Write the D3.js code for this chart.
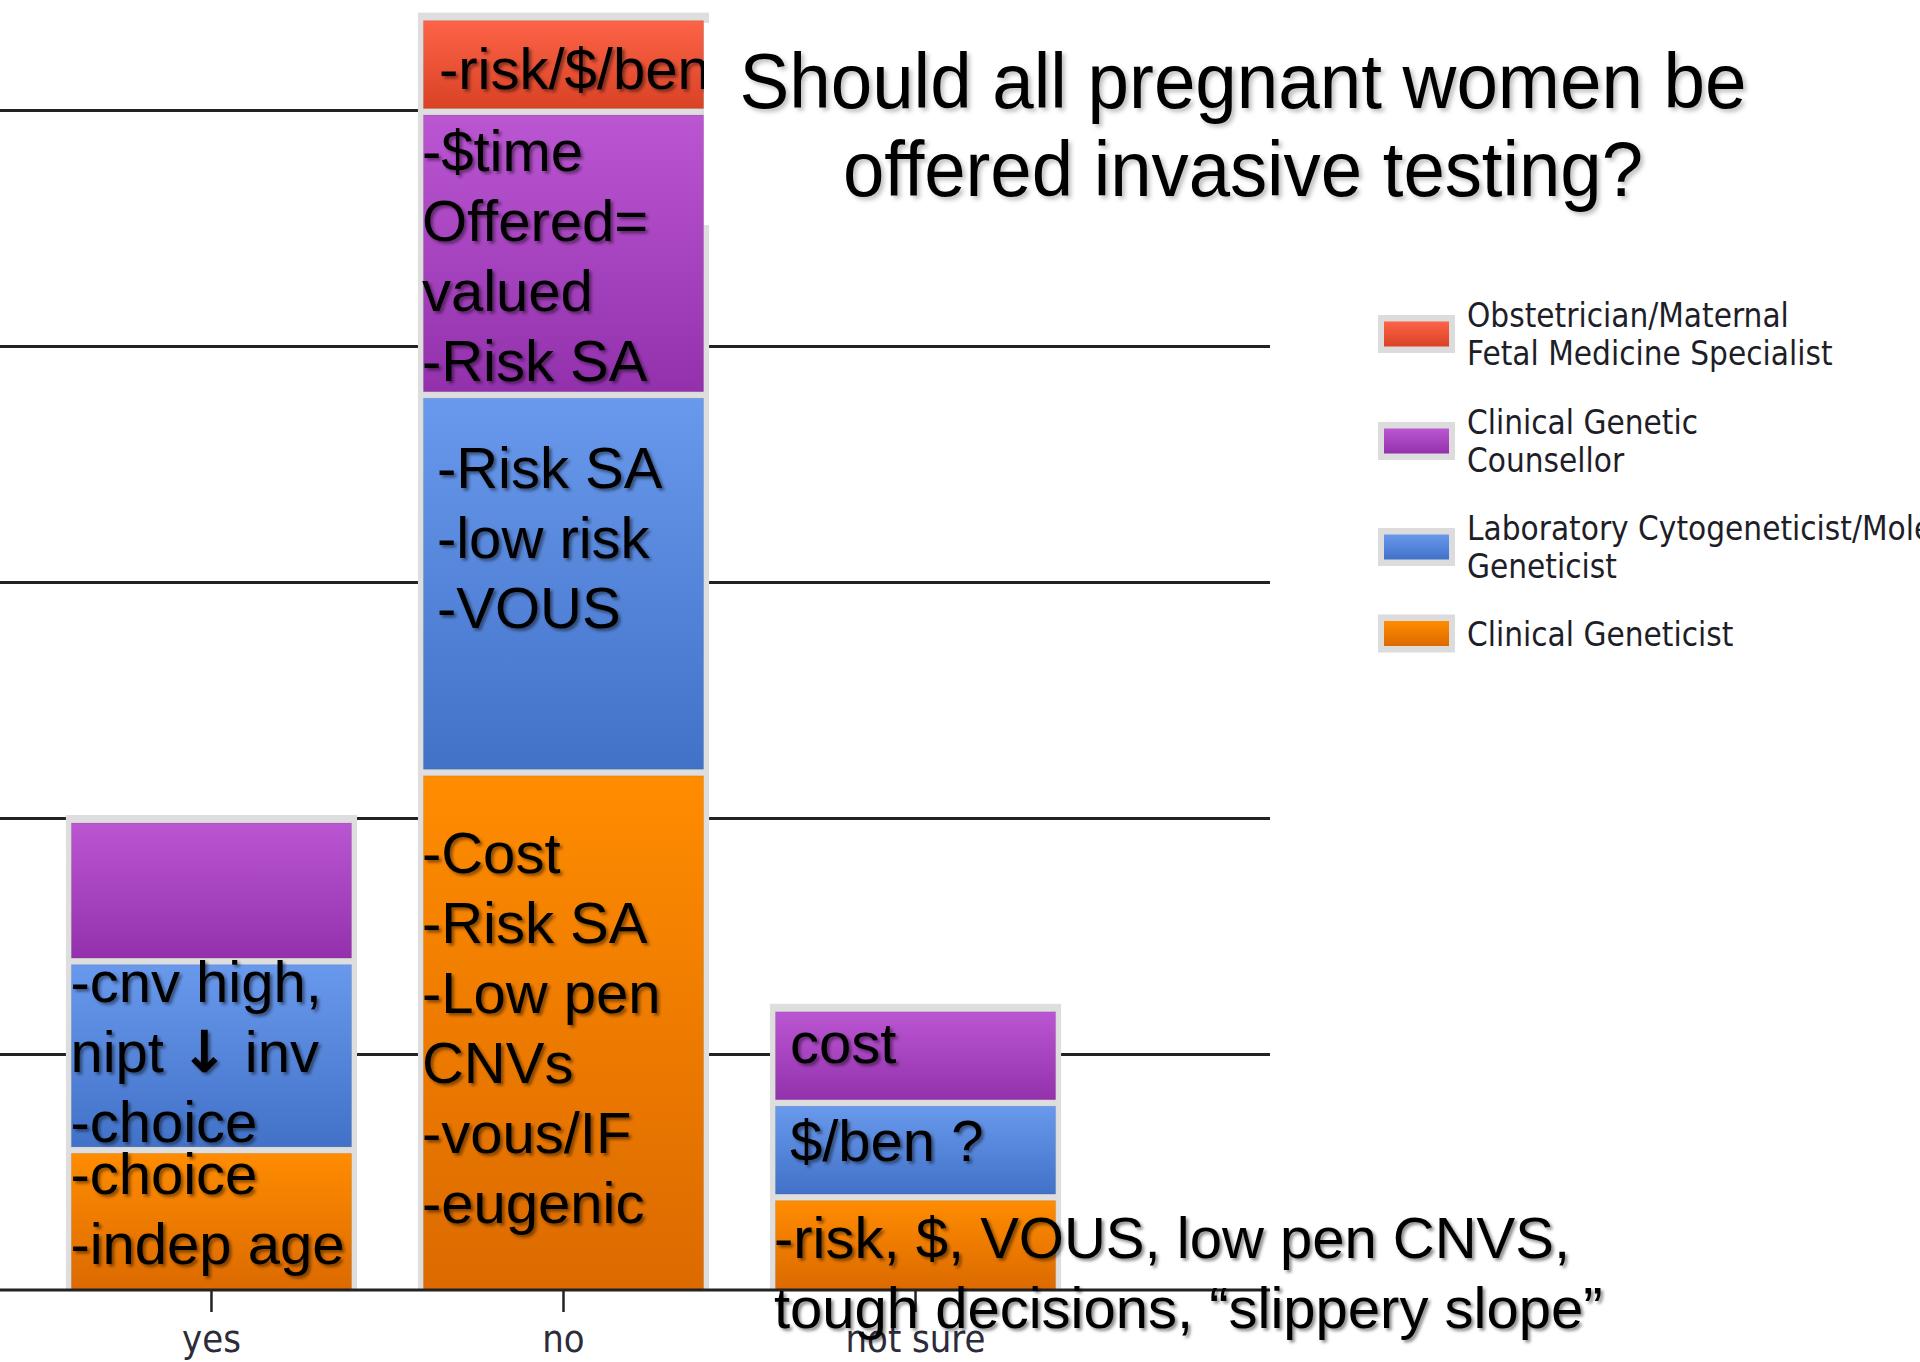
<!DOCTYPE html>
<html>
<head>
<meta charset="utf-8">
<script src="https://cdn.jsdelivr.net/npm/d3@7"></script>
<style>
  html, body { margin: 0; padding: 0; background: #fff; }
  svg { display: block; }
</style>
</head>
<body>
<svg id="chart" width="1920" height="1362"></svg>
<script>
// categories and stacked counts (bottom to top)
var categories = ["yes", "no", "not sure"];
var clinicalGeneticist = [3, 11, 2];
var labGeneticist = [4, 8, 2];
var counsellor = [3, 6, 2];
var obstetrician = [0, 2, 0];
var gridTicks = [5, 10, 15, 20, 25];

var seriesKeys = ["cg", "lab", "gc", "ob"];
var legendKeys = ["ob", "gc", "lab", "cg"];
var legendLabels = [
    ["Obstetrician/Maternal", "Fetal Medicine Specialist"],
    ["Clinical Genetic", "Counsellor"],
    ["Laboratory Cytogeneticist/Molecular", "Geneticist"],
    ["Clinical Geneticist"]
];

var titleLines = ["Should all pregnant women be", "offered invasive testing?"];

// comments typed over the bars
var notes = [
    {cat: "no", key: "ob", lines: ["-risk/$/ben"]},
    {cat: "no", key: "gc", lines: ["-$time", "Offered=", "valued", "-Risk SA"]},
    {cat: "no", key: "lab", lines: ["-Risk SA", "-low risk", "-VOUS"]},
    {cat: "no", key: "cg", lines: ["-Cost", "-Risk SA", "-Low pen", "CNVs", "-vous/IF", "-eugenic"]},
    {cat: "yes", key: "lab", lines: ["-cnv high,", "nipt \u2193 inv", "-choice"]},
    {cat: "yes", key: "cg", lines: ["-choice", "-indep age"]},
    {cat: "not sure", key: "gc", lines: ["cost"]},
    {cat: "not sure", key: "lab", lines: ["$/ben ?"]},
    {cat: "not sure", key: "cg", lines: ["-risk, $, VOUS, low pen CNVS,", "tough decisions, \u201cslippery slope\u201d"]}
];
// where each text box sits relative to its bar segment (left edge, top)
var noteOffsets = [
    [21, 73], [4, 61], [19, 95], [4, 102], [4.5, 42], [4.5, 46], [20, 56], [20, 60], [4, 62]
];

var colors = {
    ob:  ["#fc6347", "#da4226"],
    gc:  ["#bb56d2", "#9331ad"],
    lab: ["#6999ec", "#4272c8"],
    cg:  ["#ff8c00", "#dc6a00"]
};

var svg = d3.select("#chart");
var plotRight = 1270;
var baseY = 1290;

var x = d3.scaleBand().domain(categories).range([5, 1122]).padding(0.173);
var y = d3.scaleLinear().domain([0, 25]).range([baseY, 110]);

var defs = svg.append("defs");
seriesKeys.forEach(function(k){
    var g = defs.append("linearGradient")
        .attr("id", "grad-" + k)
        .attr("x1", 0).attr("y1", 0).attr("x2", 0).attr("y2", 1);
    g.append("stop").attr("offset", "0%").attr("stop-color", colors[k][0]);
    g.append("stop").attr("offset", "100%").attr("stop-color", colors[k][1]);
});
defs.append("filter").attr("id", "shadow")
    .attr("x", "-10%").attr("y", "-20%").attr("width", "130%").attr("height", "150%")
    .append("feDropShadow")
    .attr("dx", 2.5).attr("dy", 2.5).attr("stdDeviation", 1.6)
    .attr("flood-color", "#000").attr("flood-opacity", 0.45);
defs.append("filter").attr("id", "shadowLight")
    .attr("x", "-10%").attr("y", "-20%").attr("width", "130%").attr("height", "150%")
    .append("feDropShadow")
    .attr("dx", 3).attr("dy", 3).attr("stdDeviation", 2)
    .attr("flood-color", "#000").attr("flood-opacity", 0.25);

svg.append("rect").attr("width", 1920).attr("height", 1362).attr("fill", "#fff");

// gridlines
var grid = svg.append("g")
    .attr("class", "grid")
    .call(d3.axisLeft(y).tickValues(gridTicks).tickSize(-plotRight).tickFormat(""));
grid.select(".domain").remove();
grid.selectAll("line").attr("stroke", "#222").attr("stroke-width", 3);

// stacked bars
var table = categories.map(function(c, i){
    return {category: c, cg: clinicalGeneticist[i], lab: labGeneticist[i], gc: counsellor[i], ob: obstetrician[i]};
});
var stacked = d3.stack().keys(seriesKeys)(table);
var totals = table.map(function(d){ return d.cg + d.lab + d.gc + d.ob; });

svg.append("g").selectAll("rect.frame")
    .data(table)
    .join("rect")
    .attr("class", "frame")
    .attr("x", function(d){ return x(d.category); })
    .attr("width", x.bandwidth())
    .attr("y", function(d, i){ return y(totals[i]) - 3; })
    .attr("height", function(d, i){ return baseY - y(totals[i]) + 3; })
    .attr("fill", "#dedede");

var layers = svg.append("g").selectAll("g.layer")
    .data(stacked)
    .join("g")
    .attr("class", "layer")
    .attr("fill", function(s){ return "url(#grad-" + s.key + ")"; });

layers.selectAll("rect")
    .data(function(s){ return s.filter(function(d){ return d[1] > d[0]; }); })
    .join("rect")
    .attr("x", function(d){ return x(d.data.category) + 5.5; })
    .attr("width", x.bandwidth() - 11)
    .attr("y", function(d){ return y(d[1]) + 5; })
    .attr("height", function(d){
        var bottom = d[0] === 0 ? baseY - 1 : y(d[0]) - 1.5;
        return bottom - (y(d[1]) + 5);
    })
    .attr("stroke", "rgba(0,0,0,0.08)")
    .attr("stroke-width", 1);

// category axis
svg.append("line")
    .attr("x1", 0).attr("x2", plotRight)
    .attr("y1", baseY).attr("y2", baseY)
    .attr("stroke", "#222").attr("stroke-width", 3);

var xAxis = svg.append("g")
    .attr("transform", "translate(0," + baseY + ")")
    .call(d3.axisBottom(x).tickSize(22).tickSizeOuter(0));
xAxis.select(".domain").remove();
xAxis.selectAll("line").attr("stroke", "#222").attr("stroke-width", 2.5);
xAxis.selectAll("text")
    .attr("y", 62).attr("dy", 0)
    .attr("transform", "scale(0.92,1)")
    .attr("fill", "#2b2b3a")
    .style("font-family", "'DejaVu Sans', Verdana, sans-serif")
    .style("font-size", "37px");

// notes over the segments
function segmentTop(cat, key){
    var layer = stacked.filter(function(s){ return s.key === key; })[0];
    return y(layer[categories.indexOf(cat)][1]);
}

var noteG = svg.append("g")
    .attr("filter", "url(#shadow)")
    .style("font-family", "'Liberation Sans', Arial, sans-serif")
    .style("font-size", "58px")
    .attr("fill", "#000");

notes.forEach(function(n, i){
    var left = x(n.cat) + noteOffsets[i][0];
    var top = segmentTop(n.cat, n.key) + noteOffsets[i][1];
    var t = noteG.append("text").attr("x", left).attr("y", top);
    n.lines.forEach(function(line, j){
        var ts = t.append("tspan").attr("x", left).attr("y", top + j * 70);
        if(line.indexOf("\u2193") >= 0){
            var parts = line.split("\u2193");
            ts.append("tspan").text(parts[0]);
            ts.append("tspan")
                .style("font-family", "'DejaVu Sans', sans-serif")
                .style("font-weight", "bold")
                .text("\u2193");
            ts.append("tspan").text(parts[1]);
        } else {
            ts.text(line);
        }
    });
});

// title box (covers the top of the chart behind it)
svg.append("rect")
    .attr("x", 704).attr("y", 23)
    .attr("width", 1076).attr("height", 202)
    .attr("fill", "#fff");

var titleWidths = [1007, 800];
svg.append("g")
    .attr("filter", "url(#shadowLight)")
    .selectAll("text")
    .data(titleLines)
    .join("text")
    .attr("x", 1243)
    .attr("y", function(d, i){ return 108 + i * 88; })
    .attr("text-anchor", "middle")
    .attr("textLength", function(d, i){ return titleWidths[i]; })
    .attr("lengthAdjust", "spacingAndGlyphs")
    .style("font-family", "'Liberation Sans', Arial, sans-serif")
    .style("font-size", "78px")
    .attr("fill", "#000")
    .text(function(d){ return d; });

// legend
var legendCenters = [334, 441, 547, 633.5];
var legend = svg.append("g").selectAll("g.item")
    .data(legendKeys)
    .join("g")
    .attr("class", "item")
    .attr("transform", function(d, i){ return "translate(1378," + legendCenters[i] + ")"; });

legend.append("rect")
    .attr("x", 0).attr("y", -19)
    .attr("width", 77).attr("height", 38)
    .attr("fill", "#dcdcdc");
legend.append("rect")
    .attr("x", 6).attr("y", -12.5)
    .attr("width", 65).attr("height", 25)
    .attr("fill", function(d){ return "url(#grad-" + d + ")"; });

legend.each(function(d, i){
    var lines = legendLabels[i];
    var first = -(lines.length - 1) * 19 + 12;
    var g = d3.select(this);
    lines.forEach(function(line, j){
        g.append("text")
            .attr("transform", "translate(89," + (first + j * 38) + ") scale(0.9,1)")
            .attr("fill", "#1e1e28")
            .style("font-family", "'DejaVu Sans', Verdana, sans-serif")
            .style("font-size", "33px")
            .text(line);
    });
});
</script>
</body>
</html>
